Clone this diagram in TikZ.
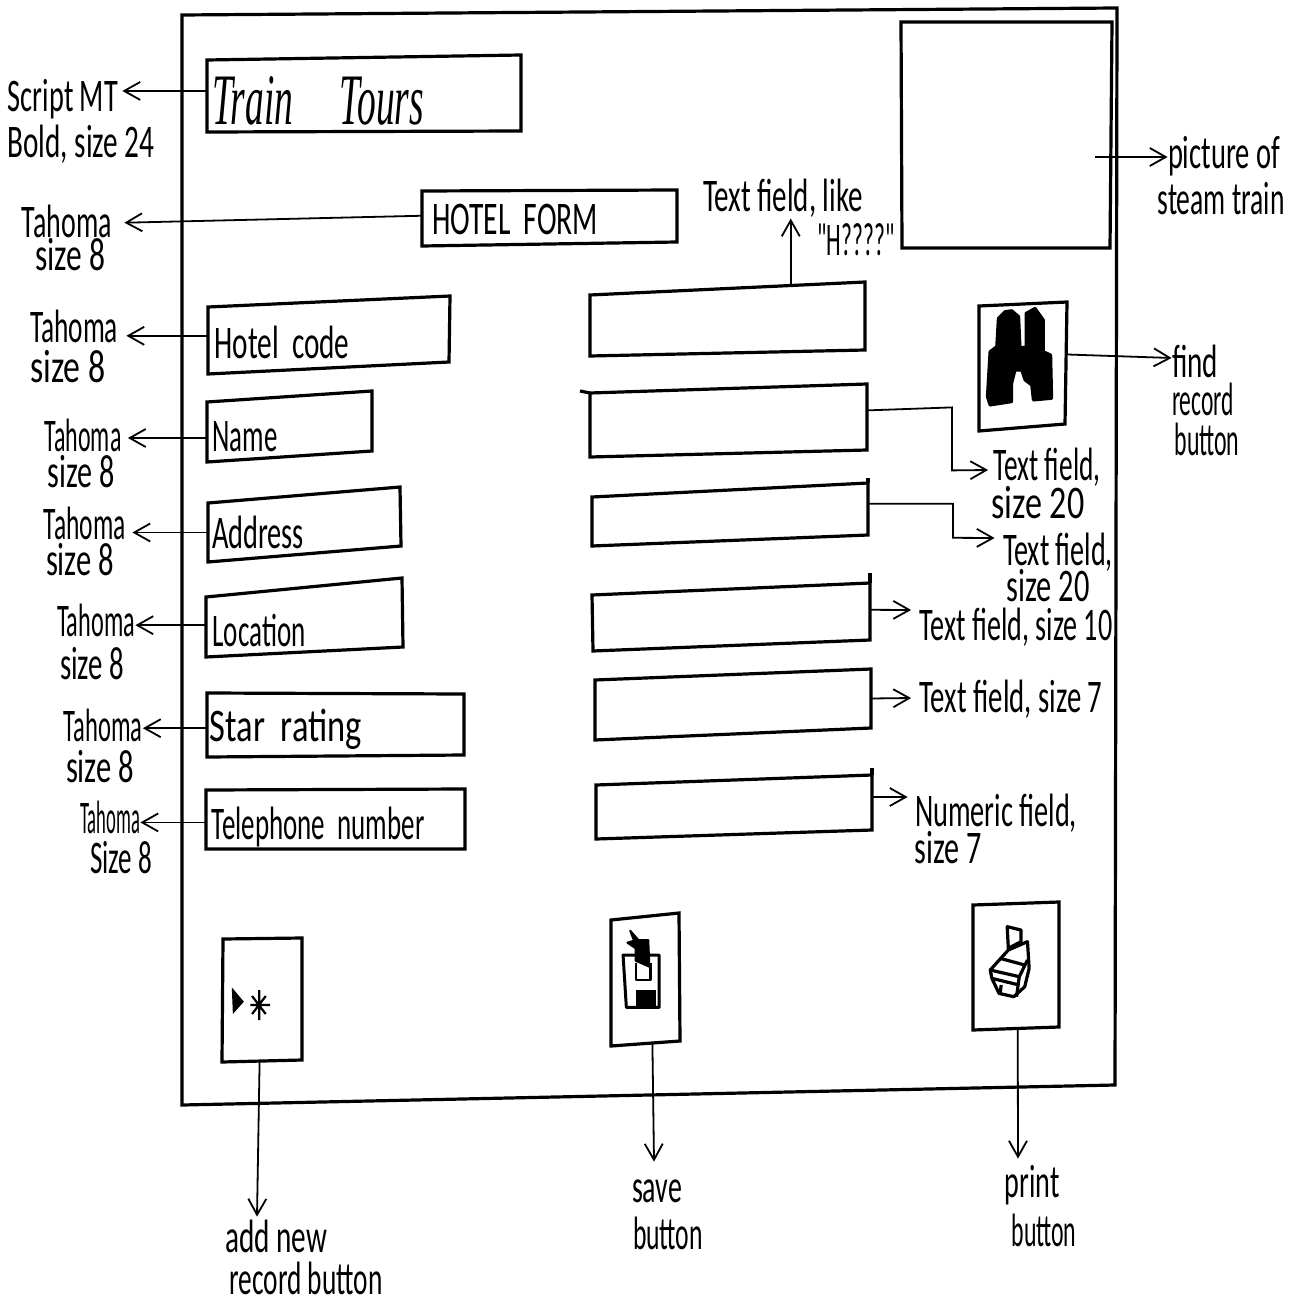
\documentclass[tikz,border=0pt]{standalone}
\usepackage{graphicx}
\usepackage{fontspec}
\usetikzlibrary{arrows.meta,calc}
\newfontfamily\hwfont[FakeStretch=0.68]{Carlito}
\newfontfamily\trainfont[FakeStretch=0.8]{Liberation Serif}
% \hw{name}{cx}{cy}{width px}{text}
\newcommand\hw[5]{\node[inner sep=0pt] (#1) at (#2,#3) {\resizebox{\dimexpr #4pt/2\relax}{15pt}{\hwfont\fontsize{23}{23}\selectfont\vphantom{H}\smash{#5}}};}
% \formbox{name}{nw}{ne}{se}{sw}
\newcommand\formbox[5]{%
  \coordinate (#1-nw) at (#2); \coordinate (#1-ne) at (#3);
  \coordinate (#1-se) at (#4); \coordinate (#1-sw) at (#5);
  \draw[boxline] (#1-nw) -- (#1-ne) -- (#1-se) -- (#1-sw) -- cycle;}
\tikzset{
  boxline/.style={line width=1.6pt,line join=miter,black},
  conn/.style={line width=0.9pt,black,-{Straight Barb[length=8pt,width=9pt,line width=0.9pt]}},
  iconline/.style={line width=1.1pt,black,line join=round},
}
\begin{document}
\begin{tikzpicture}[x=0.5pt,y=-0.5pt]
\useasboundingbox (0,0) rectangle (1299,1300);
\fill[white] (0,0) rectangle (1299,1300);

% window
\formbox{win}{182,15}{1117,8}{1115,1085}{182,1105}
% boxes
\formbox{tt}{207,60}{521,55}{521,131}{207,132}
\formbox{hf}{422,191}{677,190}{677,242}{422,246}
\formbox{pic}{901,22}{1112,22}{1110,248}{902,248}
\formbox{hc}{208,307}{450,296}{449,362}{208,374}
\formbox{nm}{207,402}{372,391}{372,451}{207,462}
\formbox{ad}{208,503}{400,487}{401,546}{208,562}
\formbox{lo}{206,597}{402,578}{403,647}{206,657}
\formbox{sr}{207,693}{464,694}{464,755}{207,757}
\formbox{tn}{206,790}{465,789}{465,849}{206,849}
% fields
\formbox{fa}{590,295}{865,282}{865,350}{590,356}
\formbox{fb}{590,393}{867,384}{867,450}{590,457}
\formbox{fc}{592,497}{868,483}{868,535}{592,546}
\formbox{fd}{592,595}{870,583}{870,640}{593,651}
\formbox{fe}{595,680}{871,669}{871,728}{595,740}
\formbox{ff}{596,785}{872,775}{872,830}{596,839}
\draw[boxline] (580,391) -- (fb-nw);
\draw[boxline] (868,478) -- (fc-ne);
\draw[boxline] (870,573) -- (fd-ne);
\draw[boxline] (872,768) -- (ff-ne);
% buttons
\formbox{fi}{979,306}{1067,302}{1065,424}{979,431}
\formbox{an}{223,939}{302,938}{302,1060}{222,1062}
\formbox{sv}{611,920}{679,913}{680,1041}{611,1046}
\formbox{pr}{973,905}{1059,902}{1059,1027}{973,1030}

% box texts
\node[inner sep=0pt] (ttt) at (318,101) {\resizebox{106pt}{24pt}{\trainfont\itshape\fontsize{30}{30}\selectfont Train\quad Tours}};
\hw{hft}{515}{220}{166}{HOTEL\ \ FORM}
\hw{hct}{282}{343}{135}{Hotel\ \ code}
\hw{nmt}{245}{436}{65}{Name}
\hw{adt}{258}{533}{92}{Address}
\hw{lot}{259}{631}{93}{Location}
\hw{srt}{286}{726}{152}{Star\ \ rating}
\hw{tnt}{318}{824}{213}{Telephone\ \ number}

% left labels
\hw{l0}{63}{97}{110}{Script MT}
\hw{l0b}{81}{143}{147}{Bold, size 24}
\hw{l1}{67}{223}{90}{Tahoma}
\hw{l1b}{70}{256}{70}{size 8}
\hw{l2}{74}{327}{88}{Tahoma}
\hw{l2b}{68}{367}{75}{size 8}
\hw{l3}{83}{436}{77}{Tahoma}
\hw{l3b}{81}{472}{67}{size 8}
\hw{l4}{85}{524}{82}{Tahoma}
\hw{l4b}{80}{560}{68}{size 8}
\hw{l5}{96}{621}{78}{Tahoma}
\hw{l5b}{92}{664}{64}{size 8}
\hw{l6}{103}{726}{79}{Tahoma}
\hw{l6b}{100}{767}{68}{size 8}
\hw{l7}{110}{818}{60}{Tahoma}
\hw{l7b}{121}{858}{62}{Size 8}

% right labels
\hw{r1}{783}{197}{160}{Text field, like}
\hw{r1b}{856}{241}{77}{"H????"}
\hw{r2}{1224}{154}{112}{picture of}
\hw{r2b}{1221}{200}{127}{steam train}
\hw{r3}{1195}{362}{46}{find}
\hw{r3b}{1203}{400}{62}{record}
\hw{r3c}{1207}{440}{65}{button}
\hw{r4}{1047}{465}{107}{Text field,}
\hw{r4b}{1038}{503}{93}{size 20}
\hw{r5}{1058}{550}{110}{Text field,}
\hw{r5b}{1048}{586}{83}{size 20}
\hw{r6}{1016}{625}{193}{Text field, size 10}
\hw{r7}{1011}{697}{183}{Text field, size 7}
\hw{r8}{996}{811}{162}{Numeric field,}
\hw{r8b}{948}{848}{67}{size 7}

% bottom labels
\hw{b1}{276}{1237}{102}{add new}
\hw{b1b}{306}{1279}{153}{record button}
\hw{b2}{657}{1187}{50}{save}
\hw{b2b}{668}{1234}{70}{button}
\hw{b3}{1032}{1182}{55}{print}
\hw{b3b}{1044}{1231}{65}{button}

% connectors to the left
\coordinate (ttstart) at ($(tt-nw)!.43!(tt-sw)$);
\draw[conn,shorten >=2pt] (ttstart) -- (ttstart -| l0.east);
\draw[conn,shorten >=6pt] ($(hf-nw)!.45!(hf-sw)$) -- (l1.east);
\coordinate (hcstart) at ($(hc-nw)!.43!(hc-sw)$);
\draw[conn,shorten >=4pt] (hcstart) -- (hcstart -| l2.east);
\coordinate (nmstart) at ($(nm-nw)!.6!(nm-sw)$);
\draw[conn,shorten >=3pt] (nmstart) -- (nmstart -| l3.east);
\coordinate (adstart) at ($(ad-nw)!.5!(ad-sw)$);
\draw[conn,shorten >=3pt] (adstart) -- (adstart -| l4.east);
\coordinate (lostart) at ($(lo-nw)!.47!(lo-sw)$);
\draw[conn] (lostart) -- (lostart -| l5.east);
\coordinate (srstart) at ($(sr-nw)!.55!(sr-sw)$);
\draw[conn] (srstart) -- (srstart -| l6.east);
\coordinate (tnstart) at ($(tn-nw)!.55!(tn-sw)$);
\draw[conn] (tnstart) -- (tnstart -| l7.east);

% connectors to the right
\coordinate (picstart) at (1095,157);
\draw[conn] (picstart) -- (r2.west |- picstart);
\coordinate (fistart) at ($(fi-ne)!.43!(fi-se)$);
\draw[conn] (fistart) -- (r3.west |- 0,358);
\draw[conn] ($(fa-nw)!.73!(fa-ne)$) -- ++(0,-67);
\draw[conn] ($(fb-ne)!.4!(fb-se)$) -- ++(85,-3) -- ++(0,63) -- ($(r4.west)+(-5,5)$);
\draw[conn] ($(fc-ne)!.4!(fc-se)$) -- ++(85,0) -- ++(0,34) -- ($(r5.west)+(-8,-12)$);
\draw[conn] ($(fd-ne)!.47!(fd-se)$) -- ($(r6.west)+(-8,-15)$);
\draw[conn] ($(fe-ne)!.5!(fe-se)$) -- ($(r7.west)+(-8,1)$);
\draw[conn] ($(ff-ne)!.4!(ff-se)$) -- ($(r8.west)+(-7,-14)$);

% connectors downward
\draw[conn] ($(an-sw)!.47!(an-se)$) -- ($(b1.north)+(-19,-5)$);
\draw[conn] ($(sv-sw)!.6!(sv-se)$) -- ($(b2.north)+(-3,-10)$);
\draw[conn] ($(pr-sw)!.52!(pr-se)$) -- ($(b3.north)+(-14,-8)$);

% binoculars icon
\begin{scope}[shift={(960,290)},x=.1667pt,y=-.1667pt]
\filldraw[black,line width=1.5pt,line join=round] (115,85) -- (135,65) -- (155,62) -- (176,80) -- (180,172) -- (198,172) -- (198,70) -- (225,55) -- (250,90) -- (250,185) -- (272,195) -- (275,325) -- (220,330) -- (215,285) -- (195,270) -- (185,240) -- (165,240) -- (155,280) -- (155,335) -- (90,345) -- (82,320) -- (90,185) -- (110,170) -- cycle;
\end{scope}

% new record icon
\begin{scope}[shift={(200,890)},x=.274pt,y=-.1667pt]
\fill[black] (58,292) -- (80,335) -- (60,372) -- cycle;
\draw[iconline] (108,300) -- (108,390) (95,318) -- (120,372) (120,318) -- (95,372) (92,345) -- (128,345);
\end{scope}

% save icon
\begin{scope}[shift={(200,890)},x=.274pt,y=-.1667pt]
\draw[iconline,line width=1.5pt] (772,195) -- (838,195) -- (838,352) -- (778,352) -- cycle;
\fill[black] (795,300) rectangle (832,352);
\draw[iconline] (795,220) -- (795,270) -- (822,270) -- (822,220);
\filldraw[black,line width=1pt,line join=round] (785,122) -- (800,150) -- (818,150) -- (820,230) -- (795,212) -- (795,175) -- (780,158) -- (792,152) -- cycle;
\end{scope}

% printer icon
\begin{scope}[shift={(200,890)},x=.274pt,y=-.1667pt]
\draw[iconline,line width=1.6pt] (1473,110) -- (1498,120) -- (1498,155) -- (1475,175) -- cycle;
\draw[iconline,line width=1.6pt] (1442,240) -- (1475,180) -- (1510,155) -- (1513,235) -- (1505,290) -- (1485,320) -- (1458,310) -- (1445,265) -- cycle;
\draw[iconline,line width=1.6pt] (1442,240) -- (1495,260) -- (1510,210) (1460,205) -- (1505,225) (1445,265) -- (1495,285) (1460,310) -- (1462,285) (1495,260) -- (1490,320);
\end{scope}
\end{tikzpicture}
\end{document}
